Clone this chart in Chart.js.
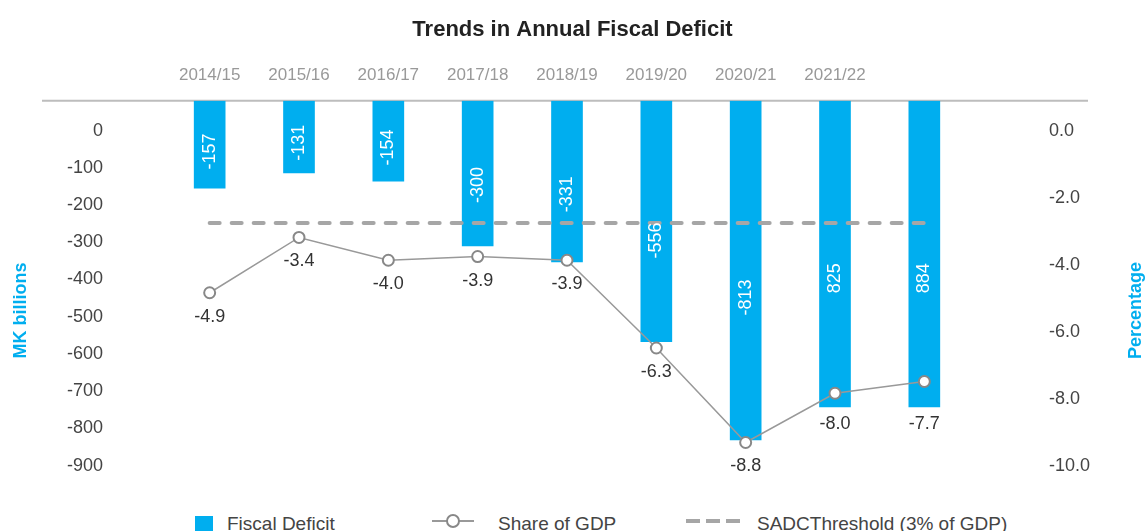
<!DOCTYPE html>
<html lang="en">
<head>
  <meta charset="UTF-8">
  <title>Trends in Annual Fiscal Deficit</title>
  <script src="https://cdn.jsdelivr.net/npm/chart.js"></script>
  <style>
    body, html {
      width: 1145px;
      height: 531px;
      margin: 0;
      padding: 0;
      overflow: hidden;
      background: #fff;
    }
    .wrap { position: relative; width: 1145px; height: 531px; }
    .chart-box { position: absolute; left: 0; top: 0; width: 1145px; height: 500px; }

    .legend {
      position: absolute;
      left: 0;
      top: 511px;
      width: 1145px;
      height: 26px;
      font-family: "Liberation Sans", Arial, sans-serif;
      font-size: 19px;
      line-height: 26px;
      color: #444;
    }
    .legend-item {
      position: absolute;
      top: 0;
      height: 26px;
      display: flex;
      align-items: center;
      white-space: nowrap;
    }
    .legend-item:nth-child(1) { left: 195px; }
    .legend-item:nth-child(2) { left: 432px; }
    .legend-item:nth-child(3) { left: 686px; }

    .mark { display: inline-block; position: relative; flex: none; }
    .mark-0 { width: 18px; height: 18px; background: #00AEEF; margin-right: 14px; top: 1px; }
    .mark-1 { width: 42px; height: 14px; margin-right: 24px; top: -3px; }
    .mark-1::before {
      content: ''; position: absolute; left: 0; right: 0; top: 6px; height: 2px; background: #999;
    }
    .mark-1::after {
      content: ''; position: absolute; left: 14px; top: 0; width: 10px; height: 10px;
      border: 2px solid #888; border-radius: 50%; background: #fff;
    }
    .mark-2 {
      width: 54px; height: 4px; margin-right: 17px; top: -3px;
      background: repeating-linear-gradient(90deg, #a6a6a6 0 14px, transparent 14px 20px);
    }
  </style>
</head>
<body>
  <div class="wrap">
    <div class="chart-box"><canvas id="deficitChart"></canvas></div>
    <div class="legend" id="legend"></div>
  </div>

  <script>
    // fiscal years (last bar has no label in the source)
    const categories = ['2014/15', '2015/16', '2016/17', '2017/18', '2018/19', '2019/20', '2020/21', '2021/22', ''];

    const deficit = [-155, -114, -136, -310, -353, -567, -831, -742, -742];
    const deficitText = ['-157', '-131', '-154', '-300', '-331', '-556', '-813', '825', '884'];

    const gdpShare = [-4.84, -3.19, -3.87, -3.76, -3.87, -6.49, -9.31, -7.84, -7.49];
    const gdpShareText = ['-4.9', '-3.4', '-4.0', '-3.9', '-3.9', '-6.3', '-8.8', '-8.0', '-7.7'];

    const sadcThreshold = [-2.76, -2.76, -2.76, -2.76, -2.76, -2.76, -2.76, -2.76, -2.76];

    const leftTicks = [0, -100, -200, -300, -400, -500, -600, -700, -800, -900];
    const rightTicks = [0, -2, -4, -6, -8, -10];

    const axisTitles = { y: 'MK billions', y1: 'Percentage' };

    const leftMin = -944, leftMax = 80;
    const rightMin = leftMin / 90, rightMax = leftMax / 90;

    const FONT = '"Liberation Sans", Arial, sans-serif';

    // grey rule along the top of the plot, wider than the plot itself
    const topRule = {
      id: 'topRule',
      beforeDatasetsDraw(chart) {
        const {ctx, chartArea} = chart;
        ctx.save();
        ctx.strokeStyle = '#bdbdbd';
        ctx.lineWidth = 2;
        ctx.beginPath();
        ctx.moveTo(chartArea.left - 123, chartArea.top);
        ctx.lineTo(chartArea.right + 119, chartArea.top);
        ctx.stroke();
        ctx.restore();
      }
    };

    // axis titles sit a little below the middle of the plot in the source
    const axisTitlePlugin = {
      id: 'axisTitlePlugin',
      afterDraw(chart) {
        const {ctx, chartArea, scales} = chart;
        const midY = (chartArea.top + chartArea.bottom) / 2 + 19;
        ctx.save();
        ctx.font = 'bold 18px ' + FONT;
        ctx.fillStyle = '#00AEEF';
        ctx.textAlign = 'center';
        ctx.textBaseline = 'middle';
        [[scales.y.left + 21, axisTitles.y], [scales.y1.right - 9, axisTitles.y1]].forEach(([x, text]) => {
          ctx.save();
          ctx.translate(x, midY);
          ctx.rotate(-Math.PI / 2);
          ctx.fillText(text, 0, 0);
          ctx.restore();
        });
        ctx.restore();
      }
    };

    // value labels: rotated white text inside bars, dark text under the points
    const valueLabels = {
      id: 'valueLabels',
      afterDatasetsDraw(chart) {
        const {ctx} = chart;
        const bars = chart.getDatasetMeta(0).data;
        const points = chart.getDatasetMeta(1).data;
        ctx.save();
        ctx.font = '18px ' + FONT;
        ctx.textAlign = 'center';
        ctx.textBaseline = 'middle';
        ctx.fillStyle = '#fff';
        bars.forEach((bar, i) => {
          const y = bar.base + (bar.y - bar.base) * 0.58;
          ctx.save();
          ctx.translate(bar.x, y);
          ctx.rotate(-Math.PI / 2);
          ctx.fillText(deficitText[i], 0, 0);
          ctx.restore();
        });
        ctx.fillStyle = '#333';
        points.forEach((pt, i) => {
          const y = Math.max(pt.y + 24, bars[i].y + 17);
          ctx.fillText(gdpShareText[i], pt.x, y);
        });
        ctx.restore();
      }
    };

    function buildLegend(chart) {
      const box = document.getElementById('legend');
      chart.data.datasets.forEach((ds, i) => {
        const item = document.createElement('div');
        item.className = 'legend-item';
        const mark = document.createElement('span');
        mark.className = 'mark mark-' + i;
        const txt = document.createElement('span');
        txt.textContent = ds.label;
        item.appendChild(mark);
        item.appendChild(txt);
        box.appendChild(item);
      });
    }

    // fixed axis width; drop the edge padding Chart.js adds for the tick labels
    function fixAxis(width) {
      return scale => {
        scale.width = width;
        scale.paddingTop = 0;
        scale.paddingBottom = 0;
      };
    }

    const ctx = document.getElementById('deficitChart').getContext('2d');
    const chart = new Chart(ctx, {
      type: 'bar',
      data: {
        labels: categories,
        datasets: [
          {
            label: 'Fiscal Deficit',
            data: deficit,
            backgroundColor: '#00AEEF',
            barThickness: 31,
            base: leftMax,
            yAxisID: 'y',
            order: 3
          },
          {
            type: 'line',
            label: 'Share of GDP',
            data: gdpShare,
            borderColor: '#999',
            borderWidth: 1.5,
            pointRadius: 5.5,
            pointBorderWidth: 2,
            pointBorderColor: '#888',
            pointBackgroundColor: '#fff',
            tension: 0,
            yAxisID: 'y1',
            order: 1
          },
          {
            type: 'line',
            label: 'SADCThreshold (3% of GDP)',
            data: sadcThreshold,
            borderColor: '#a6a6a6',
            borderWidth: 4,
            borderDash: [10, 12],
            borderCapStyle: 'round',
            pointRadius: 0,
            yAxisID: 'y1',
            order: 2
          }
        ]
      },
      options: {
        responsive: true,
        maintainAspectRatio: false,
        animation: false,
        layout: { padding: { left: 0, right: 0, top: 0, bottom: 18 } },
        plugins: {
          legend: { display: false },
          tooltip: { enabled: false },
          title: {
            display: true,
            text: 'Trends in Annual Fiscal Deficit',
            color: '#222',
            font: { family: FONT, size: 22, weight: 'bold' },
            padding: { top: 17, bottom: 7 }
          }
        },
        scales: {
          x: {
            position: 'top',
            grid: { display: false, drawTicks: false },
            border: { display: false },
            ticks: { color: '#999', font: { family: FONT, size: 17 }, padding: 15, maxRotation: 0 }
          },
          y: {
            position: 'left',
            min: leftMin,
            max: leftMax,
            grid: { display: false, drawTicks: false },
            border: { display: false },
            afterBuildTicks(scale) { scale.ticks = leftTicks.map(v => ({ value: v })); },
            afterFit: fixAxis(165),
            ticks: { color: '#444', font: { family: FONT, size: 18 }, padding: 62 }
          },
          y1: {
            position: 'right',
            min: rightMin,
            max: rightMax,
            grid: { display: false, drawTicks: false },
            border: { display: false },
            afterBuildTicks(scale) { scale.ticks = rightTicks.map(v => ({ value: v })); },
            afterFit: fixAxis(176),
            ticks: {
              color: '#444',
              font: { family: FONT, size: 18 },
              padding: 80,
              callback: v => v.toFixed(1)
            }
          }
        }
      },
      plugins: [topRule, valueLabels, axisTitlePlugin]
    });

    buildLegend(chart);
  </script>
</body>
</html>
